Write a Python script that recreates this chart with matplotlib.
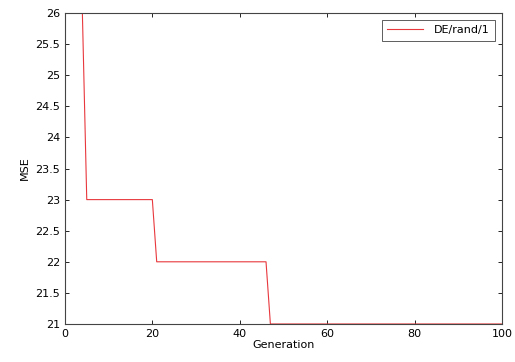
import numpy as np
import matplotlib
matplotlib.use('Agg')
import matplotlib.pyplot as plt

# best MSE per generation
step_starts = [0, 5, 21, 47]
step_values = [26, 23, 22, 21]
last_gen = 100

gens = np.arange(0, last_gen + 1)
mse = np.zeros(len(gens))
for s, v in zip(step_starts, step_values):
    mse[gens >= s] = v

fig = plt.figure(figsize=(5.15, 3.62), dpi=100)
ax = fig.add_axes([0.126, 0.105, 0.849, 0.859])
ax.plot(gens, mse, color='#e8383d', lw=0.8, label='DE/rand/1')

ax.set_xlim(0, 100)
ax.set_ylim(21, 26)
ax.set_xticks([0, 20, 40, 60, 80, 100])
ax.set_yticks(np.arange(21, 26.01, 0.5))
ax.set_yticklabels(['21', '21.5', '22', '22.5', '23', '23.5', '24', '24.5', '25', '25.5', '26'])
ax.tick_params(direction='in', top=True, right=True, labelsize=8, length=3, width=0.6)
for sp in ax.spines.values():
    sp.set_linewidth(0.8)
    sp.set_color('#444444')

ax.set_xlabel('Generation', fontsize=8, labelpad=1)
ax.set_ylabel('MSE', fontsize=8, labelpad=4)

leg = ax.legend(loc='upper right', fontsize=8, fancybox=False, framealpha=1,
                edgecolor='#444444', borderaxespad=0.6, handlelength=3.2,
                borderpad=0.5, handletextpad=1.0)
leg.get_frame().set_linewidth(0.6)

fig.savefig('out.png', dpi=100)
